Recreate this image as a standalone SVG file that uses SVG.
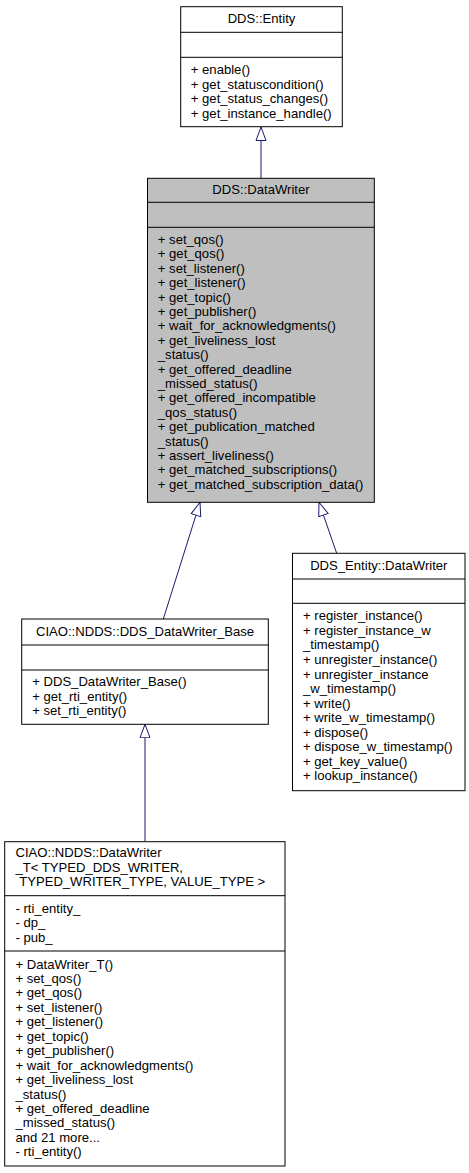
<svg xmlns="http://www.w3.org/2000/svg" width="469" height="1173" viewBox="0 0 469 1173">
<style>
  .box { fill: #ffffff; stroke: #000000; stroke-width: 1; }
  .cur { fill: #bfbfbf; stroke: #000000; stroke-width: 1; }
  .sep { stroke: #000000; stroke-width: 1; fill: none; }
  .t { font-family: "Liberation Sans", Arial, Helvetica, sans-serif; font-size: 13.1px; fill: #000000; }
  .c { text-anchor: middle; }
  .edge { stroke: #191970; stroke-width: 1; fill: none; marker-end: url(#inh); }
</style>
<defs>
  <marker id="inh" markerUnits="userSpaceOnUse" markerWidth="16" markerHeight="12" refX="14" refY="6" orient="auto" viewBox="0 0 16 12">
    <path d="M0.5,1 L14,6 L0.5,11 Z" fill="#ffffff" stroke="#191970" stroke-width="1"/>
  </marker>
</defs>
<rect width="469" height="1173" fill="#ffffff"/>

<g id="connectors">
  <path class="edge" d="M261,178.3 L261,127"/>
  <path class="edge" d="M163.3,619 L200,502.3"/>
  <path class="edge" d="M336.7,553.3 L319,502.3"/>
  <path class="edge" d="M145,841.7 L145,724.3"/>
</g>

<g id="node-dds-entity">
  <rect class="box" x="180.7" y="6.7" width="161.6" height="120"/>
  <path class="sep" d="M180.7,32.3 H342.3 M180.7,57.3 H342.3"/>
  <text class="t c" x="261.5" y="23.3">DDS::Entity</text>
  <text class="t" x="190.8" y="74">+ enable()</text>
  <text class="t" x="190.8" y="88.5">+ get_statuscondition()</text>
  <text class="t" x="190.8" y="103">+ get_status_changes()</text>
  <text class="t" x="190.8" y="117.5">+ get_instance_handle()</text>
</g>

<g id="node-dds-datawriter">
  <rect class="cur" x="147.5" y="178.3" width="226.8" height="324"/>
  <path class="sep" d="M147.5,202.3 H374.3 M147.5,227.3 H374.3"/>
  <text class="t c" x="261" y="193.5">DDS::DataWriter</text>
  <text class="t" x="157.8" y="244">+ set_qos()</text>
  <text class="t" x="157.8" y="258.4">+ get_qos()</text>
  <text class="t" x="157.8" y="272.8">+ set_listener()</text>
  <text class="t" x="157.8" y="287.2">+ get_listener()</text>
  <text class="t" x="157.8" y="301.6">+ get_topic()</text>
  <text class="t" x="157.8" y="316">+ get_publisher()</text>
  <text class="t" x="157.8" y="330.4">+ wait_for_acknowledgments()</text>
  <text class="t" x="157.8" y="344.8">+ get_liveliness_lost</text>
  <text class="t" x="157.8" y="359.2">_status()</text>
  <text class="t" x="157.8" y="373.6">+ get_offered_deadline</text>
  <text class="t" x="157.8" y="388">_missed_status()</text>
  <text class="t" x="157.8" y="402.4">+ get_offered_incompatible</text>
  <text class="t" x="157.8" y="416.8">_qos_status()</text>
  <text class="t" x="157.8" y="431.2">+ get_publication_matched</text>
  <text class="t" x="157.8" y="445.6">_status()</text>
  <text class="t" x="157.8" y="460">+ assert_liveliness()</text>
  <text class="t" x="157.8" y="474.4">+ get_matched_subscriptions()</text>
  <text class="t" x="157.8" y="488.8">+ get_matched_subscription_data()</text>
</g>

<g id="node-ciao-dds-datawriter-base">
  <rect class="box" x="21.7" y="619" width="246.6" height="105.3"/>
  <path class="sep" d="M21.7,645 H268.3 M21.7,670 H268.3"/>
  <text class="t c" x="145" y="635.5">CIAO::NDDS::DDS_DataWriter_Base</text>
  <text class="t" x="32.2" y="686">+ DDS_DataWriter_Base()</text>
  <text class="t" x="32.2" y="700.5">+ get_rti_entity()</text>
  <text class="t" x="32.2" y="715">+ set_rti_entity()</text>
</g>

<g id="node-dds-entity-datawriter">
  <rect class="box" x="292.5" y="553.3" width="172.5" height="237.4"/>
  <path class="sep" d="M292.5,579 H465 M292.5,603.3 H465"/>
  <text class="t c" x="378.8" y="570">DDS_Entity::DataWriter</text>
  <text class="t" x="303" y="620.3">+ register_instance()</text>
  <text class="t" x="303" y="634.85">+ register_instance_w</text>
  <text class="t" x="303" y="649.4">_timestamp()</text>
  <text class="t" x="303" y="663.95">+ unregister_instance()</text>
  <text class="t" x="303" y="678.5">+ unregister_instance</text>
  <text class="t" x="303" y="693.05">_w_timestamp()</text>
  <text class="t" x="303" y="707.6">+ write()</text>
  <text class="t" x="303" y="722.15">+ write_w_timestamp()</text>
  <text class="t" x="303" y="736.7">+ dispose()</text>
  <text class="t" x="303" y="751.25">+ dispose_w_timestamp()</text>
  <text class="t" x="303" y="765.8">+ get_key_value()</text>
  <text class="t" x="303" y="780.35">+ lookup_instance()</text>
</g>

<g id="node-ciao-datawriter-t">
  <rect class="box" x="4.7" y="841.7" width="280.3" height="324.3"/>
  <path class="sep" d="M4.7,895.7 H285 M4.7,951 H285"/>
  <text class="t" x="15.5" y="857">CIAO::NDDS::DataWriter</text>
  <text class="t" x="15.5" y="871.5">_T&lt; TYPED_DDS_WRITER,</text>
  <text class="t" x="19.2" y="886">TYPED_WRITER_TYPE, VALUE_TYPE &gt;</text>
  <text class="t" x="15.5" y="912.5">- rti_entity_</text>
  <text class="t" x="15.5" y="927">- dp_</text>
  <text class="t" x="15.5" y="941.5">- pub_</text>
  <text class="t" x="15.5" y="968.5">+ DataWriter_T()</text>
  <text class="t" x="15.5" y="982.95">+ set_qos()</text>
  <text class="t" x="15.5" y="997.4">+ get_qos()</text>
  <text class="t" x="15.5" y="1011.85">+ set_listener()</text>
  <text class="t" x="15.5" y="1026.3">+ get_listener()</text>
  <text class="t" x="15.5" y="1040.75">+ get_topic()</text>
  <text class="t" x="15.5" y="1055.2">+ get_publisher()</text>
  <text class="t" x="15.5" y="1069.65">+ wait_for_acknowledgments()</text>
  <text class="t" x="15.5" y="1084.1">+ get_liveliness_lost</text>
  <text class="t" x="15.5" y="1098.55">_status()</text>
  <text class="t" x="15.5" y="1113">+ get_offered_deadline</text>
  <text class="t" x="15.5" y="1127.45">_missed_status()</text>
  <text class="t" x="15.5" y="1141.9">and 21 more...</text>
  <text class="t" x="15.5" y="1156.35">- rti_entity()</text>
</g>
</svg>
